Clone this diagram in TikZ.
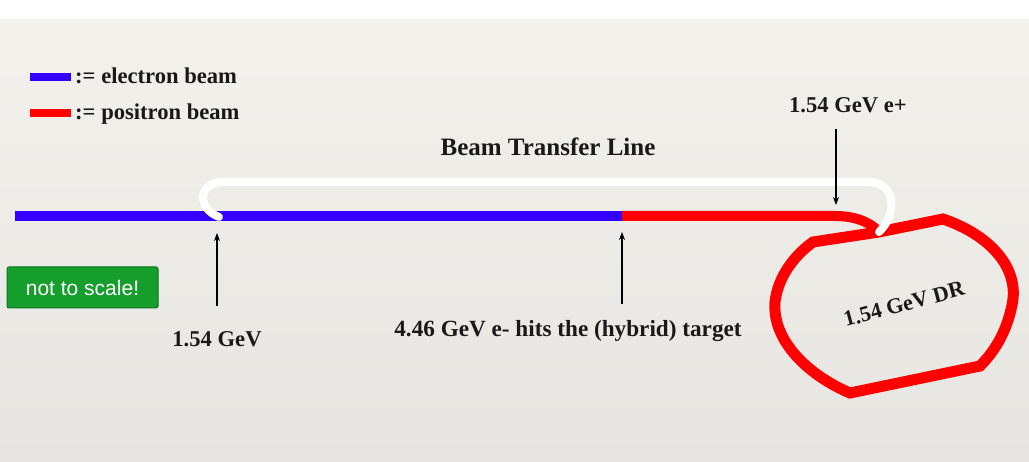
\documentclass[tikz,border=0pt]{standalone}
\usepackage{fontspec}
\setmainfont{Liberation Serif}
\newfontfamily\helvfont{Liberation Sans}
\usetikzlibrary{arrows.meta}
\definecolor{ebeam}{RGB}{51,0,255}
\definecolor{pbeam}{RGB}{255,0,0}
\definecolor{bgtop}{RGB}{243,241,236}
\definecolor{bgbot}{RGB}{231,229,225}
\definecolor{boxgreen}{RGB}{22,158,44}
\definecolor{boxedge}{RGB}{10,118,28}
\tikzset{
  lbl/.style={font=\fontsize{22.6}{26}\selectfont\bfseries, anchor=base, inner sep=0pt, text=black!90},
  beam/.style={line width=10pt},
  legendbar/.style={line width=8pt},
  transfer/.style={line width=8pt, white, line cap=round},
  pointer/.style={line width=1.6pt, -{Stealth[length=8pt,width=6pt]}},
  ring/.style={line width=11pt, pbeam, line join=miter},
}
\begin{document}
\begin{tikzpicture}[x=1pt,y=-1pt]
\useasboundingbox (0,0) rectangle (1029,462);
\fill[white] (0,0) rectangle (1029,20);
\shade[top color=bgtop, bottom color=bgbot] (0,20) rectangle (1029,462);

% legend
\coordinate (lb1) at (30,77);
\coordinate (lb2) at (71,77);
\coordinate (lr1) at (30,113);
\coordinate (lr2) at (71,113);
\draw[legendbar, ebeam] (lb1) -- (lb2);
\draw[legendbar, pbeam] (lr1) -- (lr2);
\node[lbl, anchor=base west] (ltxt1) at (75,84) {:= electron beam};
\node[lbl, anchor=base west] (ltxt2) at (75,120) {:= positron beam};

% main beam line
\coordinate (bstart) at (15,216);
\coordinate (target) at (622,216);
\coordinate (pend) at (835,216);
\coordinate (junc) at (879,232);
\draw[beam, ebeam] (bstart) -- (target);
\draw[beam, pbeam] (target) -- (pend) .. controls (855,216) and (870,222) .. (junc);

% damping ring
\draw[ring] (junc) -- (943,219) .. controls (990,235) and (1020,268) .. (1012,305)
  .. controls (1006,335) and (992,354) .. (980,366) -- (850,393)
  .. controls (810,376) and (772,342) .. (775,302)
  .. controls (778,276) and (795,255) .. (813,242) -- cycle;
\node[lbl, rotate=15, anchor=center, font=\fontsize{22}{26}\selectfont\bfseries] (drlbl) at (904,304) {1.54 GeV DR};

% beam transfer line (white)
\coordinate (tstart) at (219,217);
\draw[transfer] (tstart) .. controls (196,208) and (198,182) .. (224,182)
  -- (868,182) .. controls (896,182) and (898,214) .. (junc);
\node[lbl, font=\fontsize{25}{28}\selectfont\bfseries] (btl) at (548,156) {Beam Transfer Line};

% arrows and labels
\coordinate (a1s) at (217,306);
\coordinate (a1e) at (217,233);
\draw[pointer] (a1s) -- (a1e);
\node[lbl] (l1) at (217,347) {1.54 GeV};

\coordinate (a2s) at (622,304);
\coordinate (a2e) at (622,232);
\draw[pointer] (a2s) -- (a2e);
\node[lbl, font=\fontsize{23.2}{26}\selectfont\bfseries] (l2) at (568,337) {4.46 GeV e- hits the (hybrid) target};

\coordinate (a3s) at (836,129);
\coordinate (a3e) at (836,205);
\draw[pointer] (a3s) -- (a3e);
\node[lbl] (l3) at (848,113) {1.54 GeV e+};

% not to scale box
\node[draw=boxedge, fill=boxgreen, line width=1pt, rounded corners=2pt,
      minimum width=151pt, minimum height=41pt, inner sep=0pt,
      text=white, font=\helvfont\fontsize{21}{24}\selectfont] (nts) at (82.5,287.5) {not to scale!};
\end{tikzpicture}
\end{document}
